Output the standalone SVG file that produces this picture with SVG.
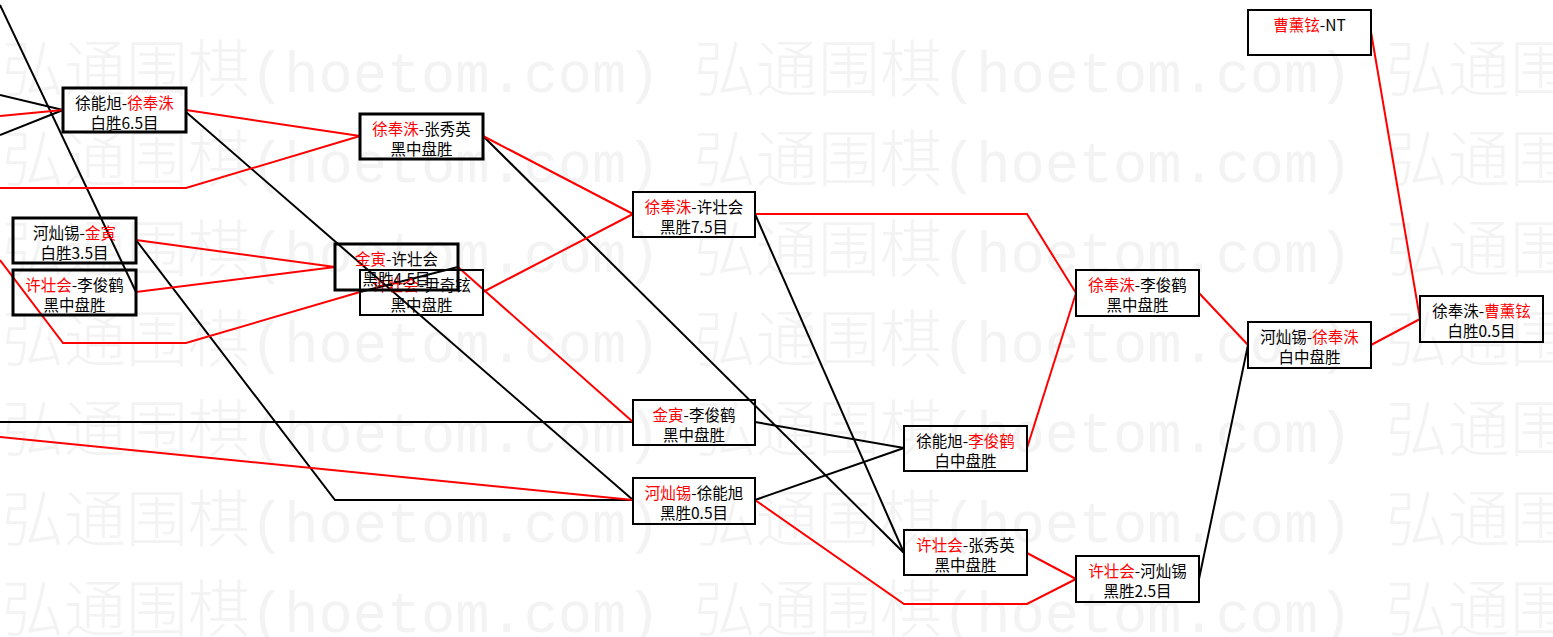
<svg xmlns="http://www.w3.org/2000/svg" width="1553" height="637" viewBox="0 0 1553 637">
<style>
.bg{fill:#fff}
.wm{font-family:"Noto Sans CJK SC",sans-serif;font-size:62px;font-weight:300;fill:#f3f3f3}
.wml{font-family:"Liberation Mono",monospace;font-size:57px;font-weight:400}
.box{fill:none;stroke:#000;stroke-width:2}
.thick{stroke-width:3}
.t{font-family:"Noto Sans CJK SC",sans-serif;font-size:15.5px;fill:#000;text-anchor:middle}
.r{fill:#f00}
.cb{fill:none;stroke:#000;stroke-width:2}
.cr{fill:none;stroke:#f00;stroke-width:2}
</style>
<rect class="bg" x="0" y="0" width="1553" height="637"/>
<g id="watermark">
<text class="wm" x="2" y="92">弘通围棋<tspan class="wml">(hoetom.com)</tspan></text>
<text class="wm" x="694" y="92">弘通围棋<tspan class="wml">(hoetom.com)</tspan></text>
<text class="wm" x="1386" y="92">弘通围棋</text>
<text class="wm" x="2" y="182">弘通围棋<tspan class="wml">(hoetom.com)</tspan></text>
<text class="wm" x="694" y="182">弘通围棋<tspan class="wml">(hoetom.com)</tspan></text>
<text class="wm" x="1386" y="182">弘通围棋</text>
<text class="wm" x="2" y="272">弘通围棋<tspan class="wml">(hoetom.com)</tspan></text>
<text class="wm" x="694" y="272">弘通围棋<tspan class="wml">(hoetom.com)</tspan></text>
<text class="wm" x="1386" y="272">弘通围棋</text>
<text class="wm" x="2" y="362">弘通围棋<tspan class="wml">(hoetom.com)</tspan></text>
<text class="wm" x="694" y="362">弘通围棋<tspan class="wml">(hoetom.com)</tspan></text>
<text class="wm" x="1386" y="362">弘通围棋</text>
<text class="wm" x="2" y="452">弘通围棋<tspan class="wml">(hoetom.com)</tspan></text>
<text class="wm" x="694" y="452">弘通围棋<tspan class="wml">(hoetom.com)</tspan></text>
<text class="wm" x="1386" y="452">弘通围棋</text>
<text class="wm" x="2" y="542">弘通围棋<tspan class="wml">(hoetom.com)</tspan></text>
<text class="wm" x="694" y="542">弘通围棋<tspan class="wml">(hoetom.com)</tspan></text>
<text class="wm" x="1386" y="542">弘通围棋</text>
<text class="wm" x="2" y="632">弘通围棋<tspan class="wml">(hoetom.com)</tspan></text>
<text class="wm" x="694" y="632">弘通围棋<tspan class="wml">(hoetom.com)</tspan></text>
<text class="wm" x="1386" y="632">弘通围棋</text>
</g>
<g id="connectors">
<polyline class="cb" points="0,5 136,292"/>
<polyline class="cb" points="136,240 335,500 633,500"/>
<polyline class="cb" points="186,112 633,500"/>
<polyline class="cb" points="483,136 904,553"/>
<polyline class="cb" points="755,214 904,553"/>
<polyline class="cb" points="755,422 904,448"/>
<polyline class="cb" points="755,500 904,448"/>
<polyline class="cb" points="1199,579 1248,345"/>
<polyline class="cb" points="458,267 360,292"/>
<polyline class="cb" points="0,422 633,422"/>
<polyline class="cb" points="0,95 63,110"/>
<polyline class="cb" points="0,135 63,110"/>
<polyline class="cr" points="0,116 63,110"/>
<polyline class="cr" points="186,110 360,136"/>
<polyline class="cr" points="0,188 186,188 360,136"/>
<polyline class="cr" points="136,240 335,267"/>
<polyline class="cr" points="136,292 335,267"/>
<polyline class="cr" points="0,260 63,343 186,343 360,292"/>
<polyline class="cr" points="483,136 633,214"/>
<polyline class="cr" points="483,292 633,214"/>
<polyline class="cr" points="458,267 633,422"/>
<polyline class="cr" points="0,437 633,500"/>
<polyline class="cr" points="755,214 1027,214 1076,293"/>
<polyline class="cr" points="1027,448 1076,293"/>
<polyline class="cr" points="755,500 904,604 1027,604 1076,579"/>
<polyline class="cr" points="1027,553 1076,579"/>
<polyline class="cr" points="1199,293 1248,345"/>
<polyline class="cr" points="1371,345 1420,319"/>
<polyline class="cr" points="1371,32 1420,319"/>
</g>
<g id="n1"><rect class="box thick" x="63" y="88" width="123" height="44"/><text class="t" x="124.5" y="109">徐能旭-<tspan class="r">徐奉洙</tspan></text><text class="t" x="124.5" y="129">白胜6.5目</text></g>
<g id="n2"><rect class="box thick" x="360" y="114" width="123" height="45"/><text class="t" x="421.5" y="135"><tspan class="r">徐奉洙</tspan>-张秀英</text><text class="t" x="421.5" y="155">黑中盘胜</text></g>
<g id="n3"><rect class="box thick" x="13" y="218" width="123" height="45"/><text class="t" x="74.5" y="239">河灿锡-<tspan class="r">金寅</tspan></text><text class="t" x="74.5" y="259">白胜3.5目</text></g>
<g id="n4"><rect class="box thick" x="13" y="270" width="123" height="45"/><text class="t" x="74.5" y="291"><tspan class="r">许壮会</tspan>-李俊鹤</text><text class="t" x="74.5" y="311">黑中盘胜</text></g>
<g id="n6"><rect class="box" x="360" y="270" width="123" height="45"/><text class="t" x="421.5" y="291"><tspan class="r">许壮会</tspan>-尹奇铉</text><text class="t" x="421.5" y="311">黑中盘胜</text></g>
<g id="n5"><rect class="box thick" x="335" y="244" width="123" height="46"/><text class="t" x="396.5" y="265"><tspan class="r">金寅</tspan>-许壮会</text><text class="t" x="396.5" y="285">黑胜4.5目</text></g>
<g id="n7"><rect class="box" x="633" y="192" width="122" height="45"/><text class="t" x="694" y="213"><tspan class="r">徐奉洙</tspan>-许壮会</text><text class="t" x="694" y="233">黑胜7.5目</text></g>
<g id="n8"><rect class="box" x="633" y="400" width="122" height="45"/><text class="t" x="694" y="421"><tspan class="r">金寅</tspan>-李俊鹤</text><text class="t" x="694" y="441">黑中盘胜</text></g>
<g id="n9"><rect class="box" x="633" y="478" width="122" height="46"/><text class="t" x="694" y="499"><tspan class="r">河灿锡</tspan>-徐能旭</text><text class="t" x="694" y="519">黑胜0.5目</text></g>
<g id="n10"><rect class="box" x="904" y="426" width="123" height="45"/><text class="t" x="965.5" y="447">徐能旭-<tspan class="r">李俊鹤</tspan></text><text class="t" x="965.5" y="467">白中盘胜</text></g>
<g id="n11"><rect class="box" x="904" y="530" width="123" height="45"/><text class="t" x="965.5" y="551"><tspan class="r">许壮会</tspan>-张秀英</text><text class="t" x="965.5" y="571">黑中盘胜</text></g>
<g id="n12"><rect class="box" x="1076" y="556" width="123" height="46"/><text class="t" x="1137.5" y="577"><tspan class="r">许壮会</tspan>-河灿锡</text><text class="t" x="1137.5" y="597">黑胜2.5目</text></g>
<g id="n13"><rect class="box" x="1076" y="270" width="123" height="46"/><text class="t" x="1137.5" y="291"><tspan class="r">徐奉洙</tspan>-李俊鹤</text><text class="t" x="1137.5" y="311">黑中盘胜</text></g>
<g id="n14"><rect class="box" x="1248" y="322" width="123" height="46"/><text class="t" x="1309.5" y="343">河灿锡-<tspan class="r">徐奉洙</tspan></text><text class="t" x="1309.5" y="363">白中盘胜</text></g>
<g id="n15"><rect class="box" x="1420" y="296" width="123" height="46"/><text class="t" x="1481.5" y="317">徐奉洙-<tspan class="r">曹薰铉</tspan></text><text class="t" x="1481.5" y="337">白胜0.5目</text></g>
<g id="n16"><rect class="box" x="1248" y="10" width="123" height="45"/><text class="t" x="1309.5" y="31"><tspan class="r">曹薰铉</tspan>-NT</text></g>
</svg>
